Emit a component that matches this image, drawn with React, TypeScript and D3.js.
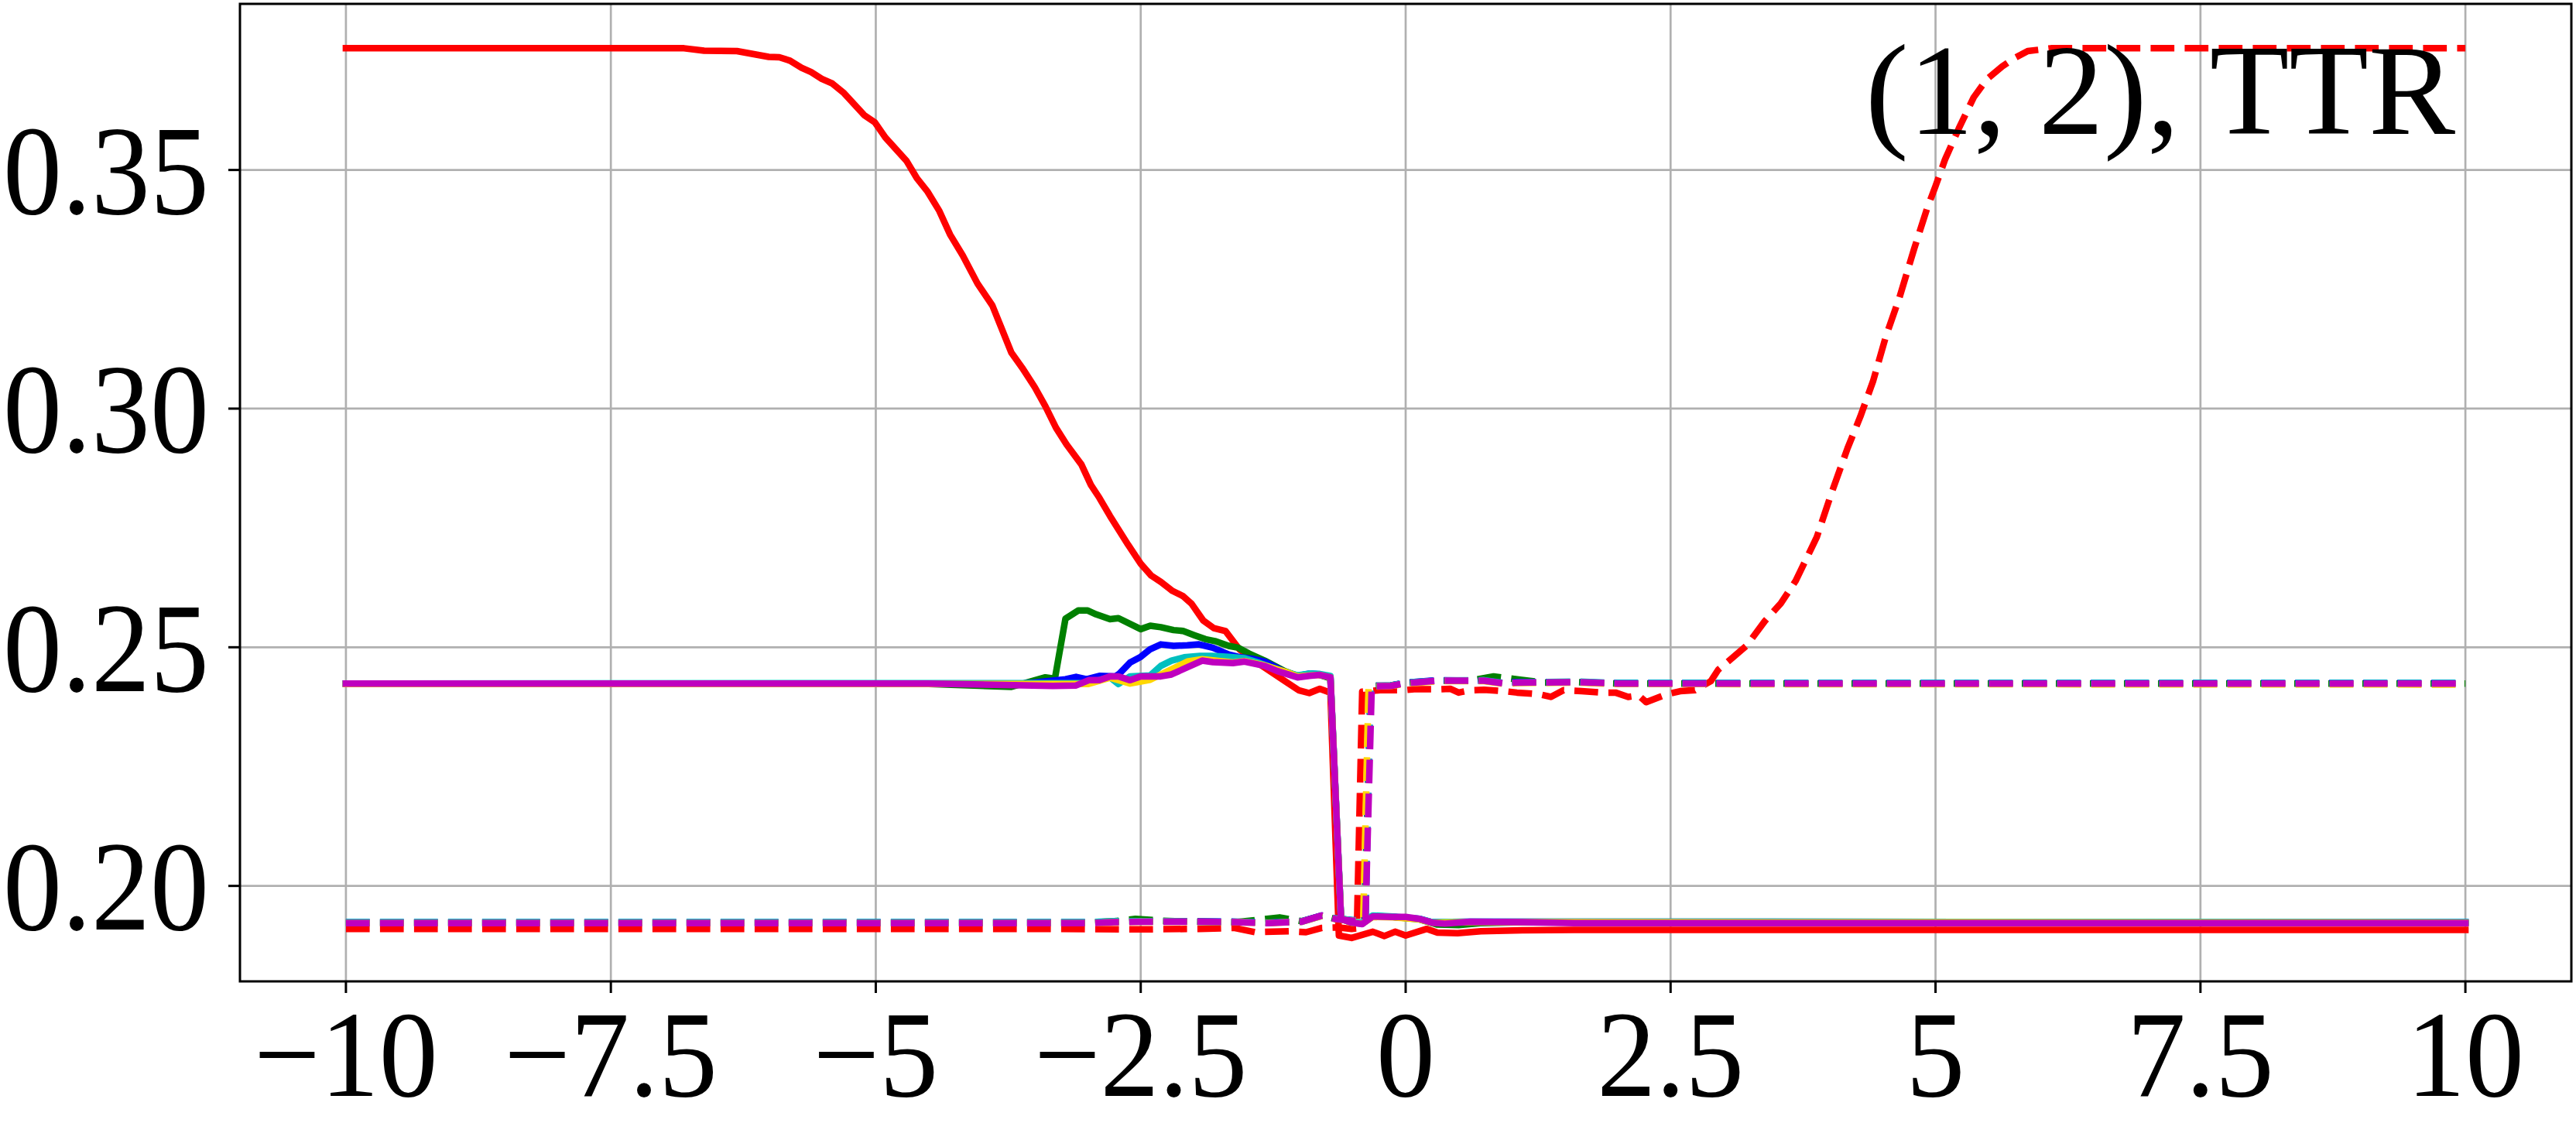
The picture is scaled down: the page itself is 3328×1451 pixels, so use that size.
import React from 'react';
import * as d3 from 'd3';

const W = 3328;
const H = 1451;
const PLOT = { left: 310, right: 3322, top: 5, bottom: 1268 };

const xDomain: [number, number] = [-11, 11];
const yDomain: [number, number] = [0.18, 0.3848];
const xTicks = [-10, -7.5, -5, -2.5, 0, 2.5, 5, 7.5, 10];
const xTickLabels = ['−10', '−7.5', '−5', '−2.5', '0', '2.5', '5', '7.5', '10'];
const yTicks = [0.2, 0.25, 0.3, 0.35];
const yTickLabels = ['0.20', '0.25', '0.30', '0.35'];
const annotation = '(1, 2), TTR';

type P = [number, number];

const redSolid: P[] = [
  [-10, 0.3755], [-7.0, 0.3755], [-6.81, 0.3755], [-6.62, 0.375], [-6.31, 0.3749], [-6.01, 0.3737],
  [-5.91, 0.3736], [-5.81, 0.3729], [-5.7, 0.3714], [-5.61, 0.3705], [-5.51, 0.3691], [-5.41, 0.3681],
  [-5.3, 0.3661], [-5.11, 0.3615], [-5.01, 0.36], [-4.91, 0.3568], [-4.71, 0.3519], [-4.61, 0.3482],
  [-4.51, 0.3454], [-4.4, 0.3414], [-4.3, 0.3365], [-4.18, 0.3321], [-4.04, 0.3262], [-3.9, 0.3216],
  [-3.82, 0.3172], [-3.72, 0.3117], [-3.62, 0.3086], [-3.5, 0.3045], [-3.4, 0.3005], [-3.3, 0.296],
  [-3.2, 0.2925], [-3.06, 0.2883], [-2.97, 0.284], [-2.89, 0.2813], [-2.79, 0.2775], [-2.62, 0.2715],
  [-2.5, 0.2675], [-2.4, 0.265], [-2.31, 0.2637], [-2.2, 0.2618], [-2.1, 0.2607], [-2.02, 0.2591],
  [-1.91, 0.2556], [-1.81, 0.254], [-1.7, 0.2534], [-1.57, 0.2496], [-1.43, 0.2472], [-1.28, 0.245],
  [-1.14, 0.2429], [-1.01, 0.241], [-0.91, 0.2404], [-0.81, 0.2413], [-0.71, 0.2405], [-0.63, 0.1896],
  [-0.51, 0.1891], [-0.31, 0.1904], [-0.2, 0.1895], [-0.1, 0.1904], [0.0, 0.1896], [0.2, 0.191],
  [0.3, 0.1902], [0.49, 0.1901], [0.71, 0.1905], [1.1, 0.1907], [1.6, 0.1908], [10, 0.1908],
];

const redDashed: P[] = [
  [-10, 0.191], [-3.5, 0.191], [-2.5, 0.1909], [-1.94, 0.191], [-1.62, 0.1912], [-1.42, 0.1903],
  [-1.1, 0.1905], [-0.94, 0.1903], [-0.79, 0.1912], [-0.64, 0.1913], [-0.51, 0.191], [-0.46, 0.1911],
  [-0.41, 0.2407], [-0.24, 0.241], [-0.02, 0.241], [0.08, 0.2412], [0.3, 0.2412], [0.42, 0.2413],
  [0.5, 0.2405], [0.61, 0.241], [0.74, 0.2411], [0.93, 0.2408], [1.05, 0.2405], [1.25, 0.2402],
  [1.37, 0.2396], [1.49, 0.241], [1.66, 0.2408], [1.86, 0.2405], [1.98, 0.2405], [2.1, 0.2396],
  [2.2, 0.2399], [2.27, 0.2385], [2.47, 0.2402], [2.59, 0.2408], [2.73, 0.241], [2.88, 0.2429],
  [2.95, 0.2453], [3.1, 0.2481], [3.22, 0.2504], [3.39, 0.2555], [3.54, 0.2592], [3.68, 0.2639],
  [3.8, 0.2694], [3.88, 0.2731], [4.02, 0.2824], [4.17, 0.2917], [4.29, 0.2983], [4.41, 0.3057],
  [4.53, 0.315], [4.66, 0.3233], [4.8, 0.3336], [4.92, 0.3419], [5.0, 0.3466], [5.09, 0.3522],
  [5.22, 0.3587], [5.36, 0.3652], [5.48, 0.3689], [5.63, 0.3717], [5.75, 0.3735], [5.87, 0.3749],
  [6.09, 0.3755], [10, 0.3755],
];

const greenSolid: P[] = [
  [-10, 0.2424], [-4.5, 0.2423], [-3.72, 0.2417], [-3.4, 0.2437], [-3.31, 0.2434], [-3.21, 0.256],
  [-3.09, 0.2577], [-3.0, 0.2577], [-2.92, 0.2569], [-2.79, 0.2559], [-2.71, 0.2561], [-2.5, 0.2538],
  [-2.41, 0.2545], [-2.31, 0.2542], [-2.19, 0.2536], [-2.1, 0.2534], [-1.99, 0.2525], [-1.89, 0.2517],
  [-1.8, 0.2513], [-1.67, 0.2503], [-1.58, 0.2499], [-1.48, 0.2487], [-1.33, 0.2472], [-1.14, 0.245],
  [-1.02, 0.244], [-0.9, 0.2444], [-0.81, 0.2442], [-0.71, 0.2435], [-0.61, 0.1931], [-0.51, 0.1923],
  [-0.41, 0.1921], [-0.31, 0.1936], [-0.12, 0.1935], [0.13, 0.193], [0.3, 0.1919], [0.5, 0.1918],
  [0.7, 0.1922], [1.1, 0.1924], [10, 0.1922],
];

const greenDashed: P[] = [
  [-10, 0.1923], [-3.0, 0.1923], [-2.75, 0.1926], [-2.55, 0.1931], [-2.3, 0.1927], [-2.0, 0.1925],
  [-1.6, 0.1924], [-1.19, 0.1934], [-0.98, 0.1926], [-0.79, 0.1938], [-0.67, 0.1931], [-0.5, 0.1927],
  [-0.39, 0.1928], [-0.33, 0.2419], [-0.14, 0.242], [-0.02, 0.2425], [0.3, 0.243], [0.6, 0.243],
  [0.83, 0.2439], [1.08, 0.2432], [1.3, 0.2426], [1.62, 0.2427], [2.0, 0.2424], [10, 0.2424],
];

const blueSolid: P[] = [
  [-10, 0.2424], [-3.6, 0.2424], [-3.21, 0.2433], [-3.11, 0.2438], [-3.01, 0.2433], [-2.89, 0.244],
  [-2.74, 0.2439], [-2.7, 0.2445], [-2.6, 0.2468], [-2.5, 0.248], [-2.41, 0.2496], [-2.31, 0.2506],
  [-2.19, 0.2503], [-2.06, 0.2504], [-1.95, 0.2506], [-1.82, 0.2499], [-1.67, 0.2485], [-1.58, 0.248],
  [-1.45, 0.2476], [-1.33, 0.247], [-1.14, 0.2448], [-1.02, 0.244], [-0.9, 0.2445], [-0.81, 0.2443],
  [-0.71, 0.2438], [-0.61, 0.1932], [-0.51, 0.1924], [-0.41, 0.1922], [-0.31, 0.1937], [-0.12, 0.1935],
  [0.13, 0.1931], [0.25, 0.1924], [0.6, 0.1925], [1.1, 0.1925], [10, 0.1924],
];

const blueDashed: P[] = [
  [-10, 0.1924], [-3.0, 0.1924], [-2.75, 0.1925], [-2.5, 0.1926], [-2.0, 0.1926], [-1.6, 0.1925],
  [-1.3, 0.1923], [-0.98, 0.1926], [-0.79, 0.1938], [-0.67, 0.1932], [-0.5, 0.1928], [-0.38, 0.1929],
  [-0.33, 0.2419], [-0.14, 0.242], [-0.02, 0.2425], [0.08, 0.2427], [0.3, 0.2431], [0.74, 0.243],
  [0.93, 0.2425], [1.05, 0.2427], [1.62, 0.2427], [2.0, 0.2425], [10, 0.2425],
];

const cyanSolid: P[] = [
  [-10, 0.2424], [-3.0, 0.2425], [-2.79, 0.2437], [-2.71, 0.2423], [-2.6, 0.2439], [-2.41, 0.2441],
  [-2.31, 0.2461], [-2.21, 0.2472], [-2.09, 0.2479], [-1.94, 0.2482], [-1.82, 0.2482], [-1.67, 0.248],
  [-1.52, 0.2477], [-1.38, 0.2467], [-1.14, 0.2448], [-1.02, 0.2441], [-0.9, 0.2445], [-0.81, 0.2444],
  [-0.71, 0.244], [-0.61, 0.1933], [-0.51, 0.1925], [-0.41, 0.1923], [-0.31, 0.1938], [-0.12, 0.1936],
  [0.13, 0.1931], [0.25, 0.1924], [0.6, 0.1925], [1.1, 0.1925], [10, 0.1924],
];

const cyanDashed: P[] = [
  [-10, 0.1924], [-3.0, 0.1924], [-2.75, 0.1926], [-2.5, 0.1926], [-2.0, 0.1925], [-1.6, 0.1925],
  [-1.3, 0.1923], [-0.98, 0.1925], [-0.79, 0.1937], [-0.67, 0.1932], [-0.5, 0.1928], [-0.38, 0.1929],
  [-0.33, 0.2418], [-0.14, 0.242], [-0.02, 0.2425], [0.08, 0.2427], [0.3, 0.243], [0.74, 0.2431],
  [0.93, 0.2425], [1.05, 0.2426], [1.62, 0.2428], [2.0, 0.2425], [10, 0.2425],
];

const yellowSolid: P[] = [
  [-10, 0.2423], [-3.0, 0.2423], [-2.79, 0.2436], [-2.6, 0.2424], [-2.41, 0.2432], [-2.31, 0.2443],
  [-2.06, 0.247], [-1.92, 0.2475], [-1.63, 0.2468], [-1.52, 0.2471], [-1.33, 0.2462], [-1.14, 0.2449],
  [-1.02, 0.2439], [-0.9, 0.2441], [-0.81, 0.2442], [-0.71, 0.2437], [-0.61, 0.1931], [-0.51, 0.1923],
  [-0.41, 0.1921], [-0.31, 0.1935], [-0.12, 0.1934], [0.13, 0.193], [0.25, 0.1923], [0.6, 0.1924],
  [1.1, 0.1924], [10, 0.1923],
];

const yellowDashed: P[] = [
  [-10, 0.1922], [-3.0, 0.1922], [-2.75, 0.1924], [-2.5, 0.1925], [-2.0, 0.1925], [-1.6, 0.1924],
  [-1.3, 0.1922], [-0.98, 0.1925], [-0.79, 0.1937], [-0.67, 0.1931], [-0.5, 0.1927], [-0.4, 0.1928],
  [-0.35, 0.2417], [-0.14, 0.2419], [-0.02, 0.2423], [0.08, 0.2425], [0.3, 0.2429], [0.74, 0.2429],
  [0.93, 0.2423], [1.05, 0.2425], [1.62, 0.2426], [2.0, 0.2423], [10, 0.2422],
];

const magentaSolid: P[] = [
  [-10, 0.2424], [-4.5, 0.2424], [-3.33, 0.2419], [-3.11, 0.242], [-2.99, 0.2431], [-2.89, 0.2431],
  [-2.79, 0.2439], [-2.71, 0.2439], [-2.6, 0.2431], [-2.5, 0.2439], [-2.31, 0.2439], [-2.21, 0.2443],
  [-2.06, 0.2458], [-1.92, 0.2472], [-1.82, 0.2469], [-1.63, 0.2467], [-1.52, 0.247], [-1.33, 0.2461],
  [-1.21, 0.245], [-1.02, 0.2437], [-0.91, 0.244], [-0.81, 0.2442], [-0.71, 0.2437], [-0.61, 0.1931],
  [-0.51, 0.1923], [-0.41, 0.192], [-0.31, 0.1936], [-0.12, 0.1935], [0.0, 0.1935], [0.13, 0.1931],
  [0.25, 0.1923], [0.37, 0.1921], [0.61, 0.1925], [1.1, 0.1924], [1.6, 0.1922], [10, 0.1922],
];

const magentaDashed: P[] = [
  [-10, 0.1922], [-3.0, 0.1922], [-2.75, 0.1924], [-2.5, 0.1925], [-2.0, 0.1925], [-1.6, 0.1924],
  [-1.3, 0.1922], [-0.98, 0.1925], [-0.79, 0.1938], [-0.67, 0.1931], [-0.5, 0.1927], [-0.38, 0.1928],
  [-0.32, 0.2418], [-0.14, 0.2419], [-0.02, 0.2424], [0.08, 0.2426], [0.3, 0.243], [0.74, 0.243],
  [0.93, 0.2424], [1.05, 0.2426], [1.62, 0.2427], [2.0, 0.2424], [10, 0.2424],
];

const seriesColors = ['#ff0000', '#008000', '#0000ff', '#00bfbf', '#ffd700', '#bf00bf'];
const solidSeries = [redSolid, greenSolid, blueSolid, cyanSolid, yellowSolid, magentaSolid];
const dashedSeries = [redDashed, greenDashed, blueDashed, cyanDashed, yellowDashed, magentaDashed];

const FONT = '"Liberation Serif", "Times New Roman", serif';
const LW = 8.5;

export default function App() {
  const x = d3.scaleLinear().domain(xDomain).range([PLOT.left, PLOT.right]);
  const y = d3.scaleLinear().domain(yDomain).range([PLOT.bottom, PLOT.top]);
  const line = d3
    .line<P>()
    .x((d) => x(d[0]))
    .y((d) => y(d[1]));

  const fs = 152;
  const syY = 1.09;
  const syX = 1.05;

  return (
    <svg
      width={W}
      height={H}
      viewBox={`0 0 ${W} ${H}`}
      style={{ position: 'absolute', left: 0, top: 0, background: '#fff' }}
    >
      <rect x={0} y={0} width={W} height={H} fill="#fff" />
      {/* grid */}
      <g stroke="#b0b0b0" strokeWidth={2.7}>
        {xTicks.map((t) => (
          <line key={'gx' + t} x1={x(t)} x2={x(t)} y1={PLOT.top} y2={PLOT.bottom} />
        ))}
        {yTicks.map((t) => (
          <line key={'gy' + t} x1={PLOT.left} x2={PLOT.right} y1={y(t)} y2={y(t)} />
        ))}
      </g>
      {/* series */}
      <g fill="none" strokeLinejoin="round">
        {seriesColors.map((c, i) => (
          <g key={'s' + i}>
            <path d={line(solidSeries[i]) || ''} stroke={c} strokeWidth={LW} strokeLinecap="square" />
            <path
              d={line(dashedSeries[i]) || ''}
              stroke={c}
              strokeWidth={LW}
              strokeLinecap="butt"
              strokeDasharray="30.7 13.3"
            />
          </g>
        ))}
      </g>
      {/* spines */}
      <rect
        x={PLOT.left}
        y={PLOT.top}
        width={PLOT.right - PLOT.left}
        height={PLOT.bottom - PLOT.top}
        fill="none"
        stroke="#000"
        strokeWidth={3}
      />
      {/* ticks */}
      <g stroke="#000" strokeWidth={3}>
        {xTicks.map((t) => (
          <line key={'tx' + t} x1={x(t)} x2={x(t)} y1={PLOT.bottom} y2={PLOT.bottom + 15} />
        ))}
        {yTicks.map((t) => (
          <line key={'ty' + t} x1={PLOT.left - 15} x2={PLOT.left} y1={y(t)} y2={y(t)} />
        ))}
      </g>
      {/* tick labels */}
      <g fontFamily={FONT} fontSize={fs} fill="#000">
        {xTicks.map((t, i) => (
          <g key={'lx' + t} transform={`translate(${x(t)},${1416}) scale(1,${syX})`}>
            <text x={0} y={0} textAnchor="middle">
              {xTickLabels[i]}
            </text>
          </g>
        ))}
        {yTicks.map((t, i) => (
          <g key={'ly' + t} transform={`translate(270,${y(t)}) scale(1,${syY})`}>
            <text x={0} y={fs * 0.34} textAnchor="end">
              {yTickLabels[i]}
            </text>
          </g>
        ))}
      </g>
      {/* annotation */}
      <text x={3172} y={173} textAnchor="end" fontFamily={FONT} fontSize={168} fill="#000">
        {annotation}
      </text>
    </svg>
  );
}
